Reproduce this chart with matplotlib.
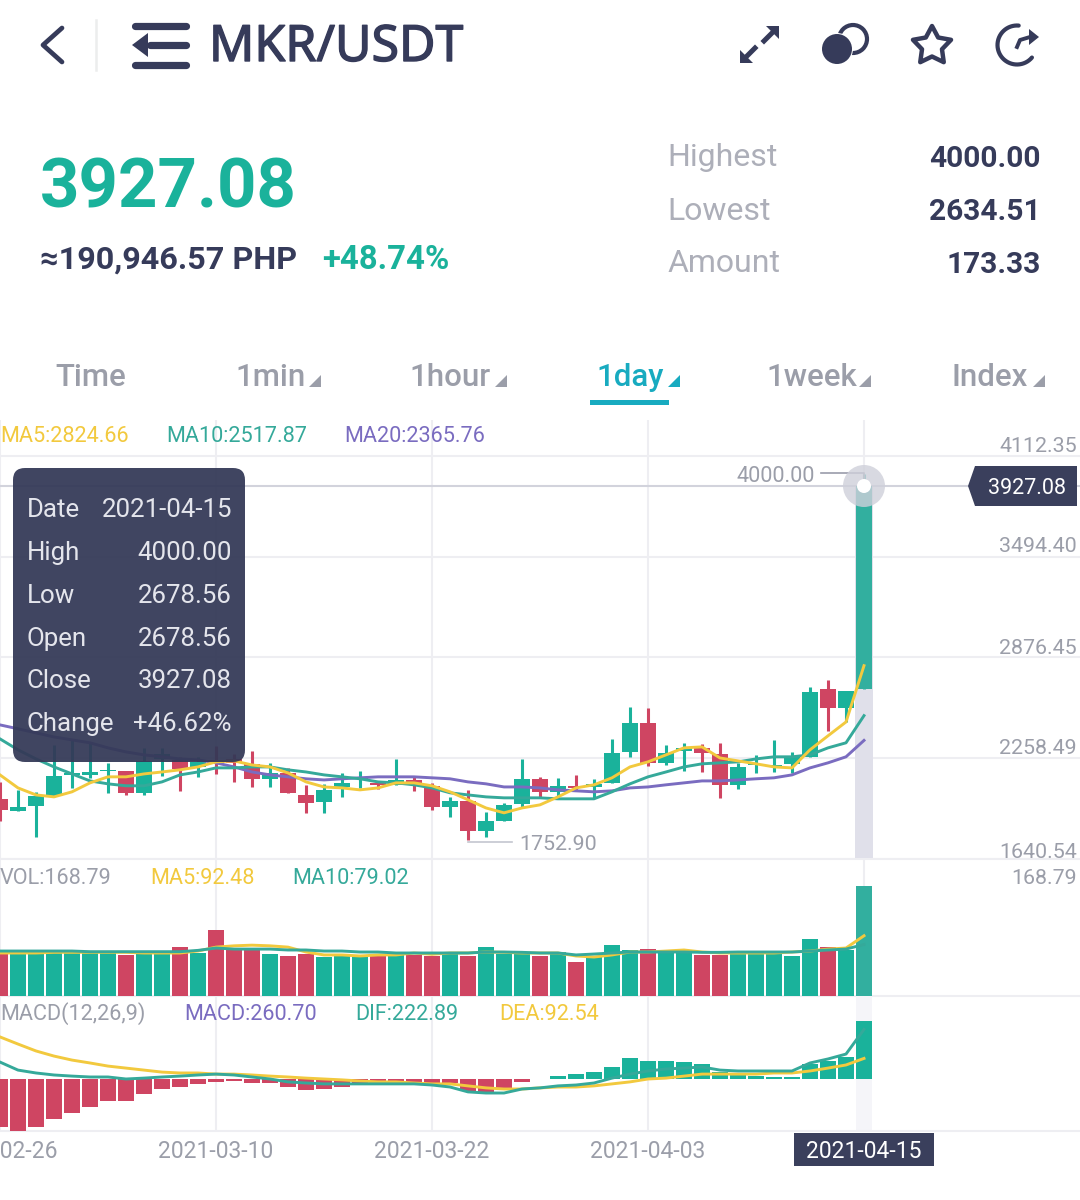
import numpy as np
import matplotlib
matplotlib.use("Agg")
import matplotlib.pyplot as plt
import matplotlib.patheffects as pe
from matplotlib.patches import Circle, FancyBboxPatch, Polygon, Rectangle

plt.rcParams["font.family"] = ["Roboto", "DejaVu Sans"]

# daily candles, 2021-02-26 to 2021-04-15
opens = [2007, 1933, 1964, 2025, 2154, 2154, 2179, 2179, 2044, 2252, 2246, 2203, 2246,
         2252, 2222, 2130, 2166, 2031, 1988, 2080, 2130, 2105, 2093, 2123, 2087, 1957,
         1994, 1810, 1871, 1976, 2130, 2050, 2087, 2080, 2105, 2295, 2473, 2228, 2301,
         2320, 2283, 2093, 2215, 2203, 2222, 2265, 2682, 2565, 2678.56]
highs = [2111, 2062, 2050, 2338, 2369, 2357, 2228, 2179, 2320, 2320, 2265, 2265, 2332,
         2283, 2301, 2228, 2197, 2093, 2099, 2166, 2179, 2111, 2252, 2148, 2105, 2019,
         2062, 1927, 1982, 2252, 2142, 2136, 2154, 2130, 2375, 2572, 2565, 2338, 2351,
         2344, 2351, 2228, 2277, 2369, 2295, 2694, 2737, 2670, 4000.00]
lows = [1871, 1933, 1773, 2025, 2074, 2136, 2044, 2031, 2031, 2148, 2056, 2142, 2160,
        2111, 2080, 2080, 2044, 1921, 1921, 2019, 2074, 2068, 2093, 2056, 1939, 1896,
        1752.90, 1773, 1871, 1957, 2013, 2019, 2062, 2013, 2105, 2265, 2209, 2215, 2179,
        2172, 2013, 2068, 2166, 2172, 2166, 2265, 2424, 2479, 2678.56]
closes = [1939, 1957, 2025, 2148, 2166, 2172, 2185, 2044, 2240, 2283, 2191, 2234, 2228,
          2228, 2130, 2166, 2044, 1982, 2062, 2105, 2142, 2093, 2123, 2105, 1957, 1994,
          1810, 1871, 1970, 2130, 2050, 2087, 2074, 2099, 2289, 2473, 2228, 2289, 2320,
          2289, 2093, 2203, 2222, 2215, 2265, 2664, 2565, 2670, 3927.08]

ma5 = [2154, 2074, 2031, 2019, 2050, 2105, 2142, 2142, 2160, 2172, 2185, 2203, 2234,
       2240, 2215, 2203, 2166, 2111, 2080, 2074, 2062, 2074, 2105, 2105, 2087, 2050,
       2001, 1951, 1921, 1951, 1970, 2019, 2074, 2093, 2136, 2203, 2234, 2277, 2320,
       2326, 2258, 2240, 2222, 2203, 2197, 2308, 2394, 2479, 2824.66]
ma10 = [2375, 2308, 2252, 2203, 2160, 2117, 2099, 2087, 2087, 2111, 2154, 2172, 2197,
        2197, 2203, 2203, 2185, 2172, 2154, 2142, 2130, 2111, 2105, 2093, 2074, 2044,
        2031, 2019, 2013, 2013, 2013, 2007, 2007, 2007, 2050, 2099, 2142, 2172, 2203,
        2222, 2228, 2234, 2252, 2265, 2265, 2277, 2320, 2351, 2517.87]
ma20 = [2461, 2437, 2412, 2387, 2369, 2351, 2320, 2295, 2277, 2265, 2252, 2246, 2228,
        2203, 2172, 2154, 2142, 2130, 2123, 2130, 2136, 2142, 2142, 2142, 2136, 2130,
        2111, 2099, 2080, 2080, 2074, 2062, 2056, 2050, 2056, 2074, 2080, 2093, 2105,
        2117, 2117, 2123, 2130, 2136, 2154, 2197, 2228, 2265, 2365.76]

volume = [67.5, 69, 67.5, 66, 67.5, 67.5, 66, 63, 66, 66, 75, 66, 101, 70.6, 70.6, 64.4,
          61.4, 64.4, 59.8, 61.4, 63, 61.4, 67.5, 63, 61.4, 66, 61.4, 75, 64.4, 64.4,
          61.4, 67.5, 52, 59.8, 78, 70.6, 72, 67.5, 66, 63, 63, 66, 66, 66, 61.4, 87.4,
          75, 70.6, 168.79]
vol_ma5 = [66, 66, 66, 67, 67, 67, 67, 67, 66, 66, 66, 69, 75, 77, 78, 77, 75, 67.5, 63,
           63, 61.4, 63, 63, 66, 64, 66, 66, 67.5, 67, 66, 66, 66, 61.4, 59.8, 63, 67.5,
           67.5, 69, 70.6, 67.5, 66, 66, 66, 66, 67.5, 69, 72, 73.6, 92.48]
vol_ma10 = [69, 69, 69, 69, 69, 68, 68, 68, 68, 68, 68, 70, 73.6, 72, 72, 72, 70.6, 70.6,
            69, 69, 67.5, 67.5, 66, 66, 66, 66, 66, 67.5, 67.5, 67, 66, 66, 63, 64.4, 66,
            67.5, 67.5, 67.5, 67.5, 67, 67, 67.5, 67.5, 67.5, 67.5, 69, 70.6, 72, 79.02]

macd = [-216, -234, -216, -180, -153, -126, -99, -99, -67, -45, -36, -22, -13, -9, -18,
        -18, -36, -49, -45, -36, -18, -18, -16, -16, -16, -16, -54, -63, -40, -13, -2, 13,
        22, 31, 54, 94, 81, 81, 76, 67, 31, 27, 13, 9, 9, 67, 81, 99, 260.70]
dif = [76, 40, 27, 18, 13, 9, 9, 0, 4, 9, 13, 18, 22, 18, 9, 0, -13, -18, -22, -22, -22,
       -22, -22, -22, -27, -36, -58, -63, -63, -45, -40, -31, -27, -18, 4, 22, 36, 45, 49,
       54, 40, 36, 36, 36, 36, 72, 90, 112, 222.89]
dea = [189, 157, 126, 103, 85, 72, 58, 49, 40, 31, 27, 27, 22, 22, 18, 13, 9, 4, 0, -4,
       -9, -13, -13, -18, -22, -22, -31, -40, -45, -45, -40, -36, -36, -31, -22, -13, 0,
       4, 13, 22, 22, 22, 22, 27, 27, 36, 49, 63, 92.54]

date_labels = ["2021-02-26", "2021-03-10", "2021-03-22", "2021-04-03", "2021-04-15"]
date_idx = [0, 12, 24, 36, 48]
price_ticks = [4112.35, 3494.40, 2876.45, 2258.49, 1640.54]
tooltip_rows = [("Date", "2021-04-15"), ("High", "4000.00"), ("Low", "2678.56"),
                ("Open", "2678.56"), ("Close", "3927.08"), ("Change", "+46.62%")]
tabs = ["Time", "1min", "1hour", "1day", "1week", "Index"]

GREEN = "#1ab29b"
RED = "#cf4562"
YELLOW = "#f2c93e"
TEAL = "#35a99a"
PURPLE = "#7a6cc0"
NAVY = "#363b5a"
GREY = "#9b9ea9"
GRID = "#eeeef2"
SELECTED = "#32af9f"
LINE_W = 2.1

idx = np.arange(len(closes))
bar_colors = [GREEN if c >= o else RED for o, c in zip(opens, closes)]
bar_colors[-1] = SELECTED

W, H = 1080, 1200
fig = plt.figure(figsize=(W / 100, H / 100), dpi=100, facecolor="white")


def panel(top, bottom, ymin, ymax, yticks):
    ax = fig.add_axes([0, 1 - bottom / H, 1, (bottom - top) / H])
    ax.set_xlim(0, W / 18)
    ax.set_ylim(ymin, ymax)
    ax.set_xticks(date_idx)
    ax.set_yticks(yticks)
    ax.set_xticklabels([])
    ax.set_yticklabels([])
    ax.tick_params(length=0)
    ax.grid(True, color=GRID, linewidth=1.5)
    ax.set_axisbelow(True)
    for s in ax.spines.values():
        s.set_visible(False)
    ax.spines["bottom"].set_visible(True)
    ax.spines["bottom"].set_color(GRID)
    ax.spines["bottom"].set_linewidth(1.5)
    ax.patch.set_alpha(0)
    return ax


# price panel
ax1 = panel(420, 858.5, 1640.54, 4333.4, price_ticks)
ax1.bar(48, closes[-1] - price_ticks[-1], bottom=price_ticks[-1], width=0.98, color="#e0e0ea", zorder=1)
ax1.vlines(idx, lows, highs, colors=bar_colors, linewidth=2.2, zorder=2)
ax1.bar(idx, np.abs(np.array(closes) - np.array(opens)), bottom=np.minimum(opens, closes),
        width=0.89, color=bar_colors, zorder=3)
ax1.plot(idx, ma20, color=PURPLE, lw=LINE_W, zorder=4)
ax1.plot(idx, ma10, color=TEAL, lw=LINE_W, zorder=5)
ax1.plot(idx, ma5, color=YELLOW, lw=LINE_W, zorder=6)
ax1.axhline(closes[-1], color="#d2d3dc", lw=1.5, zorder=2)

# volume panel
ax2 = panel(858.5, 996, 0, 211, [])
ax2.bar(idx, volume, width=0.89, color=bar_colors, zorder=3)
ax2.plot(idx, vol_ma5, color=YELLOW, lw=LINE_W, zorder=4)
ax2.plot(idx, vol_ma10, color=TEAL, lw=LINE_W, zorder=5)

# macd panel
ax3 = panel(996, 1131, -233.74, 373, [])
ax3.axvspan(47.55, 48.45, color="#f5f5f9", zorder=1, lw=0)
ax3.bar(idx, macd, width=0.89, color=[GREEN if m >= 0 else RED for m in macd], zorder=3)
ax3.plot(idx, dea, color=YELLOW, lw=LINE_W, zorder=4)
ax3.plot(idx, dif, color=TEAL, lw=LINE_W, zorder=5)

# everything that sits on top of the chart, laid out in screen pixels
ui = fig.add_axes([0, 0, 1, 1], zorder=10)
ui.set_xlim(0, W)
ui.set_ylim(H, 0)
ui.axis("off")
ui.patch.set_alpha(0)


def label(x, y, s, size=15.6, color=GREY, ha="left", weight="normal", **kw):
    return ui.text(x, y + 2, s, fontsize=size, color=color, ha=ha, va="center", fontweight=weight, **kw)


# header
ui.plot([62, 43, 62], [28, 45, 62], color=NAVY, lw=3.4, solid_capstyle="round", solid_joinstyle="round")
ui.plot([96, 96], [20, 70], color="#eceded", lw=1.8)
for y0, x0 in [(26, 135), (45, 150), (65, 135)]:
    ui.plot([x0, 186], [y0, y0], color=NAVY, lw=5.2, solid_capstyle="round")
ui.add_patch(Polygon([(132, 45), (148, 33), (148, 57)], color=NAVY, lw=0))
title = label(209, 46, "MKR/USDT", size=36, color=NAVY, family=["Noto Sans", "DejaVu Sans"])
title.set_path_effects([pe.withStroke(linewidth=1.0, foreground=NAVY)])

ui.add_patch(Polygon([(766, 26), (779, 26), (779, 39)], color=NAVY, lw=0))
ui.plot([764, 773], [41, 32], color=NAVY, lw=3.6)
ui.add_patch(Polygon([(740, 50), (740, 63), (753, 63)], color=NAVY, lw=0))
ui.plot([746, 755], [57, 48], color=NAVY, lw=3.6)

ui.add_patch(Circle((853, 39), 14, fill=False, ec=NAVY, lw=3))
ui.add_patch(Circle((837, 49), 16, color="white", lw=0))
ui.add_patch(Circle((837, 49), 15, color=NAVY, lw=0))

star_ang = np.deg2rad(-90 + 36 * np.arange(10))
star_r = np.where(np.arange(10) % 2 == 0, 20, 10.5)
ui.add_patch(Polygon(np.c_[932 + star_r * np.cos(star_ang), 46 + star_r * np.sin(star_ang)],
                     fill=False, ec=NAVY, lw=3.2, joinstyle="round"))

arc = np.deg2rad(np.linspace(-85, -320, 40))
ui.plot(1017 + 19.5 * np.cos(arc), 45 + 19.5 * np.sin(arc), color=NAVY, lw=3, solid_capstyle="round")
ui.add_patch(Polygon([(1039, 37), (1029, 29), (1029, 45)], color=NAVY, lw=0))
ui.plot([1017, 1020, 1030], [47, 40, 37], color=NAVY, lw=2.8)

# quote block
label(40, 187, "3927.08", size=49.6, color=GREEN, weight="bold")
label(40, 258, "≈190,946.57 PHP", size=23.3, color=NAVY, weight="bold")
label(322, 258, "+48.74%", size=23.7, color=GREEN, weight="bold")
for y0, name, val in [(156, "Highest", "4000.00"), (209, "Lowest", "2634.51"), (262, "Amount", "173.33")]:
    label(667, y0, name, size=23, color="#adafb9")
    label(1041, y0 + 1, val, size=21.5, color=NAVY, ha="right", weight="bold")

# period tabs
tab_x = [55, 235, 409, 596, 766, 952]
tri_x = [321, 507, 680, 871, 1045]
for i, (name, x0) in enumerate(zip(tabs, tab_x)):
    label(x0, 375, name, size=22.5, color="#18abc0" if name == "1day" else GREY, weight="medium")
    if i > 0:
        tx = tri_x[i - 1]
        ui.add_patch(Polygon([(tx - 12, 387), (tx, 387), (tx, 375)],
                             color="#18abc0" if name == "1day" else GREY, lw=0))
ui.add_patch(Rectangle((590, 400), 79, 4.5, color="#18abc0", lw=0))

# indicator captions
label(0, 435, f"MA5:{ma5[-1]:.2f}", color=YELLOW)
label(166, 435, f"MA10:{ma10[-1]:.2f}", color=TEAL)
label(344, 435, f"MA20:{ma20[-1]:.2f}", color=PURPLE)
label(0, 877, f"VOL:{volume[-1]:.2f}")
label(150, 877, f"MA5:{vol_ma5[-1]:.2f}", color=YELLOW)
label(292, 877, f"MA10:{vol_ma10[-1]:.2f}", color=TEAL)
label(0, 1012, "MACD(12,26,9)")
label(184, 1012, f"MACD:{macd[-1]:.2f}", color=PURPLE)
label(355, 1012, f"DIF:{dif[-1]:.2f}", color=TEAL)
label(499, 1012, f"DEA:{dea[-1]:.2f}", color=YELLOW)

# right-hand scale
for y0, p in zip([444, 545, 646, 747, 850], price_ticks):
    label(1077, y0, f"{p:.2f}", ha="right", size=15.4)
label(1077, 877, f"{volume[-1]:.2f}", ha="right", size=15.4)

# date row
for x0, d in zip([0, 216, 432, 648], date_labels):
    label(x0, 1150, d, size=16.5, ha="center")
ui.add_patch(Rectangle((794, 1133), 140, 33, color="#3a3f5c", lw=0))
label(864, 1150, date_labels[-1], size=16.5, ha="center", color="white")

# high / low annotations
label(815, 474, f"{highs[-1]:.2f}", ha="right")
ui.plot([821, 864, 864], [473, 473, 486], color="#9a9caa", lw=1.2)
label(519, 843, f"{min(lows):.2f}", size=15.4)
ui.plot([468, 512], [842, 842], color="#c4c6cf", lw=1.2)

# crosshair marker and close tag
ui.add_patch(Circle((864, 486), 21, color="#cfd0da", alpha=0.8, lw=0, zorder=2.5))
ui.add_patch(Circle((864, 486), 7, color="white", lw=0, zorder=2.6))
ui.add_patch(Polygon([(968, 486), (975, 466), (1077, 466), (1077, 506), (975, 506)], color="#3a3f5c", lw=0))
label(1027, 487, f"{closes[-1]:.2f}", ha="center", color="white", size=15.5)

# tooltip
ui.add_patch(FancyBboxPatch((13, 468), 232, 294, boxstyle="round,pad=0,rounding_size=12", mutation_scale=1,
                            fc="#343957", lw=0, alpha=0.94))
for y0, (name, val) in zip([508, 551, 594, 637, 679, 722], tooltip_rows):
    label(27, y0, name, size=18.6, color="#e4e5ec")
    label(232, y0, val, size=18.6, color="#e4e5ec", ha="right")

fig.savefig("out.png", dpi=100)
